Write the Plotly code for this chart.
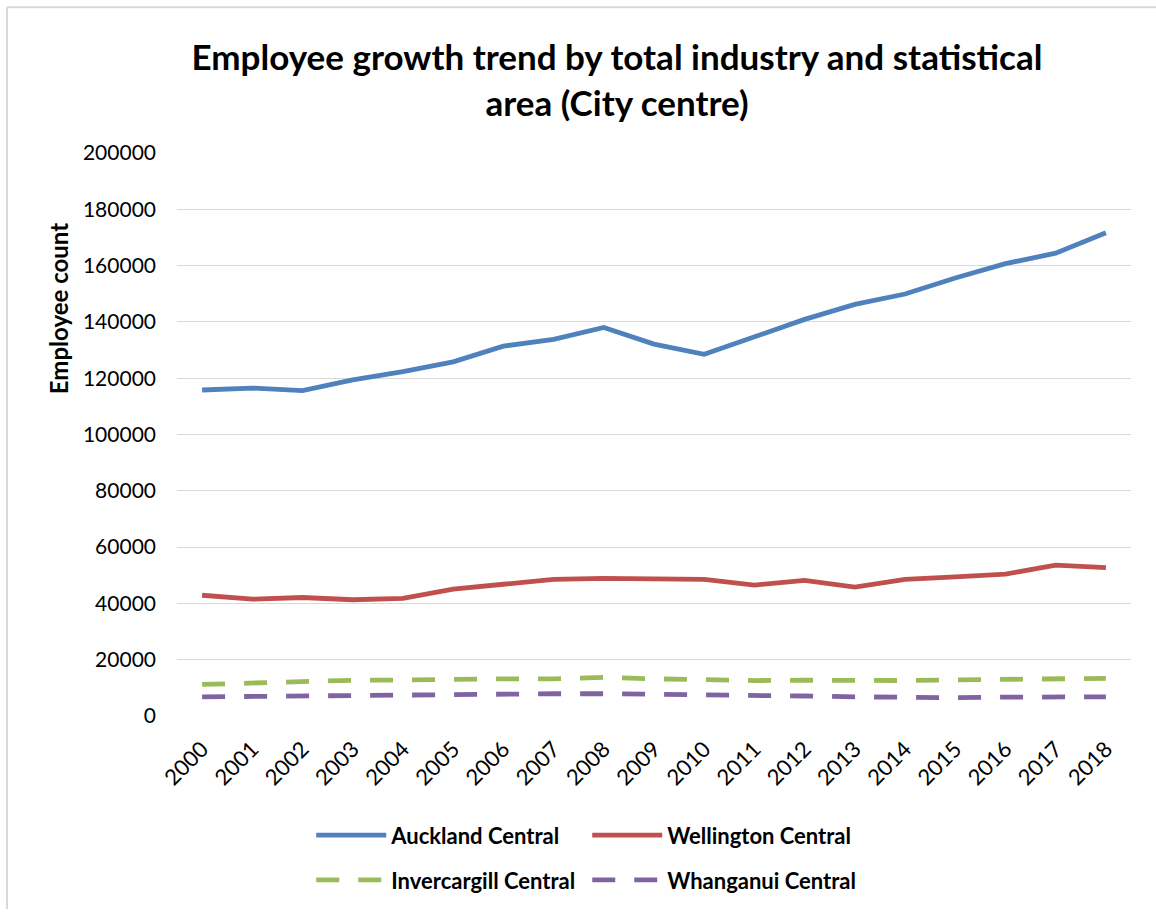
import plotly.graph_objects as go

# Employee counts by statistical area (city centres), 2000-2018
years = [str(y) for y in range(2000, 2019)]

auckland = [115800, 116500, 115600, 119400, 122300, 125800, 131400, 133800, 138000,
            132100, 128500, 134600, 140900, 146200, 149900, 155600, 160700, 164400, 171700]
wellington = [42900, 41500, 42100, 41300, 41800, 45100, 46800, 48500, 48900,
              48900, 48500, 46500, 48200, 45800, 48500, 49400, 50400, 53600, 52700]
invercargill = [11200, 11800, 12100, 12700, 12800, 13100, 13200, 13200, 13700,
                13200, 12800, 12600, 12700, 12500, 12600, 12800, 12900, 13300, 13400]
whanganui = [6800, 7000, 6900, 7200, 7400, 7500, 7700, 7900, 7900,
             7800, 7600, 7400, 7100, 6800, 6500, 6500, 6700, 6800, 6800]

series = [
    ("Auckland Central", auckland, "#4F81BD", "solid", "legend"),
    ("Wellington Central", wellington, "#C0504D", "solid", "legend"),
    ("Invercargill Central", invercargill, "#9BBB59", "23px,19px", "legend2"),
    ("Whanganui Central", whanganui, "#8064A2", "23px,19px", "legend2"),
]

W, H = 1156, 913
L, R, T, B = 177, 25, 153, 194
pw, ph = W - L - R, H - T - B


def px_x(px):
    return (px - L) / pw


def px_y(py):
    return (H - B - py) / ph


fig = go.Figure()
for name, vals, color, dash, leg in series:
    fig.add_trace(go.Scatter(
        x=years, y=vals, name=name, mode="lines", legend=leg,
        line=dict(color=color, width=4.8, dash=dash),
    ))

legend_common = dict(
    orientation="h", xanchor="left", yanchor="middle",
    entrywidth=191, entrywidthmode="pixels", itemwidth=70,
    font=dict(family="Lato", size=22, color="#000000", weight="bold"),
    bgcolor="rgba(0,0,0,0)", traceorder="normal",
)

fig.update_layout(
    width=W, height=H,
    margin=dict(l=L, r=R, t=T, b=B),
    paper_bgcolor="white", plot_bgcolor="white",
    title=dict(
        text="Employee growth trend by total industry and statistical<br>area (City centre)",
        x=617 / W, xanchor="center", xref="container",
        y=1 - 70 / H, yanchor="top", yref="container",
        font=dict(family="Lato", size=35, color="#000000", weight="bold"),
    ),
    xaxis=dict(
        type="category", range=[-0.5, 18.5], showgrid=False, zeroline=False,
        showline=False, ticks="", tickangle=-45, ticklabelstandoff=15,
        tickfont=dict(family="Lato", size=22, color="#000000"),
    ),
    yaxis=dict(
        range=[0, 200000], dtick=20000, tickformat="d",
        showgrid=True, gridcolor="#D9D9D9", gridwidth=1.3,
        zeroline=False, showline=False, ticks="", ticklabelstandoff=20,
        tickfont=dict(family="Lato", size=21, color="#000000"),
    ),
    legend=dict(x=px_x(316) - 0.005, y=px_y(839), **legend_common),
    legend2=dict(x=px_x(316) - 0.005, y=px_y(884), **legend_common),
    showlegend=True,
    annotations=[dict(
        text="Employee count", textangle=-90,
        xref="paper", yref="paper", x=px_x(58), y=px_y(310),
        xanchor="center", yanchor="middle", showarrow=False,
        font=dict(family="Lato", size=24, color="#000000", weight="bold"),
    )],
    shapes=[
        dict(type="line", xref="paper", yref="paper",
             x0=px_x(7), x1=px_x(W), y0=px_y(6.5), y1=px_y(6.5),
             line=dict(color="#D9D9D9", width=2)),
        dict(type="line", xref="paper", yref="paper",
             x0=px_x(7), x1=px_x(7), y0=px_y(6.5), y1=px_y(H),
             line=dict(color="#D9D9D9", width=2)),
    ],
)

fig.write_html("out.html")
